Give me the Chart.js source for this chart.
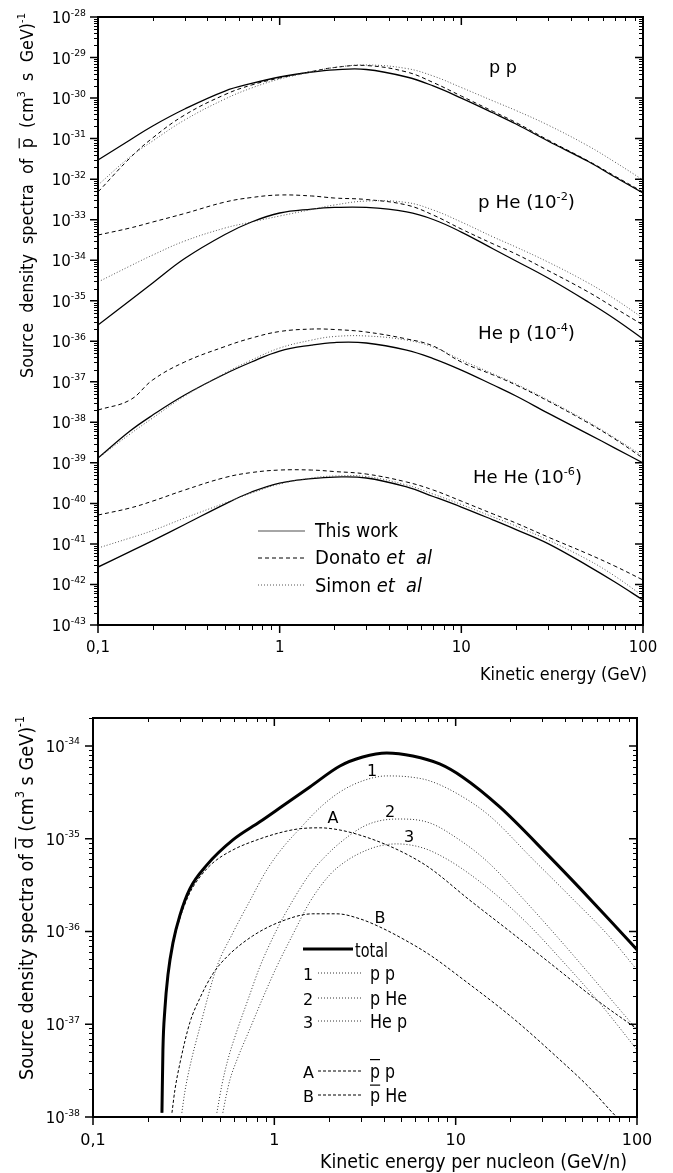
<!DOCTYPE html>
<html>
<head>
<meta charset="utf-8">
<script src="https://cdn.jsdelivr.net/npm/chart.js@4.4.1/dist/chart.umd.min.js"></script>
<style>
  html, body { margin: 0; padding: 0; background: #fff; }
  #wrap { position: relative; width: 673px; height: 1173px; }
  canvas { position: absolute; left: 0; }
</style>
</head>
<body>
<div id="wrap">
  <canvas id="pbarChart" width="673" height="695" style="top:0"></canvas>
  <canvas id="dbarChart" width="673" height="478" style="top:695px"></canvas>
</div>
<script>
// --- 1. DATA: antiproton source spectra (top panel) ---
const E_GRID = [0.1, 0.15, 0.2, 0.3, 0.5, 0.7, 1, 1.5, 2, 3, 5, 7, 10, 15, 20, 30, 50, 70, 100];

const ppThis   = [2.96e-32, 9.23e-32, 2.05e-31, 5.37e-31, 1.49e-30, 2.29e-30, 3.31e-30, 4.40e-30, 4.98e-30, 5.07e-30, 3.31e-30, 1.99e-30, 1.00e-30, 4.28e-31, 2.29e-31, 8.73e-32, 2.72e-32, 1.13e-32, 4.55e-33];
const ppDonato = [4.81e-33, 3.32e-32, 1.04e-31, 3.82e-31, 1.22e-30, 2.10e-30, 3.13e-30, 4.52e-30, 5.68e-30, 6.35e-30, 4.40e-30, 2.42e-30, 1.12e-30, 4.66e-31, 2.49e-31, 9.23e-32, 2.80e-32, 1.19e-32, 4.81e-33];
const ppSimon  = [7.16e-33, 3.52e-32, 8.73e-32, 2.88e-31, 9.48e-31, 1.77e-30, 2.95e-30, 4.40e-30, 5.68e-30, 6.55e-30, 5.36e-30, 3.50e-30, 1.82e-30, 8.45e-31, 4.93e-31, 2.16e-31, 6.56e-32, 2.64e-32, 9.51e-33];

const pHeThis   = [2.52e-36, 1.01e-35, 2.74e-35, 1.10e-34, 4.31e-34, 8.75e-34, 1.46e-33, 1.83e-33, 2.00e-33, 2.00e-33, 1.55e-33, 1.01e-33, 4.95e-34, 1.89e-34, 9.55e-35, 3.63e-35, 9.29e-36, 3.54e-36, 1.14e-36];
const pHeDonato = [4.18e-34, 6.22e-34, 8.75e-34, 1.42e-33, 2.72e-33, 3.52e-33, 4.06e-33, 3.84e-33, 3.42e-33, 3.14e-33, 2.30e-33, 1.30e-33, 5.87e-34, 2.51e-34, 1.42e-34, 5.56e-35, 1.64e-35, 6.61e-36, 2.52e-36];
const pHeSimon  = [2.90e-35, 7.18e-35, 1.34e-34, 2.97e-34, 6.22e-34, 8.75e-34, 1.23e-33, 1.78e-33, 2.30e-33, 2.88e-33, 2.65e-33, 1.73e-33, 8.75e-34, 3.73e-34, 2.11e-34, 9.02e-35, 2.74e-35, 1.10e-35, 3.74e-36];

const hepThis   = [1.31e-39, 6.10e-39, 1.51e-38, 4.72e-38, 1.56e-37, 3.08e-37, 5.74e-37, 8.07e-37, 9.31e-37, 9.06e-37, 6.08e-37, 3.75e-37, 1.95e-37, 8.32e-38, 4.46e-38, 1.69e-38, 5.14e-39, 2.32e-39, 9.91e-40];
const hepDonato = [2.01e-38, 3.55e-38, 1.11e-37, 3.08e-37, 7.41e-37, 1.20e-36, 1.74e-36, 2.00e-36, 1.95e-36, 1.69e-36, 1.14e-36, 7.64e-37, 3.08e-37, 1.47e-37, 8.32e-38, 3.36e-38, 9.62e-39, 3.87e-39, 1.31e-39];
const hepSimon  = [1.31e-39, 5.14e-39, 1.28e-38, 4.46e-38, 1.64e-37, 3.44e-37, 6.81e-37, 1.07e-36, 1.31e-36, 1.35e-36, 1.07e-36, 7.21e-37, 3.44e-37, 1.56e-37, 8.81e-38, 3.55e-38, 1.02e-38, 4.10e-39, 1.47e-39];

const heheThis   = [2.69e-42, 6.49e-42, 1.21e-41, 3.01e-41, 9.64e-41, 1.91e-40, 3.18e-40, 4.10e-40, 4.47e-40, 4.23e-40, 2.54e-40, 1.48e-40, 8.13e-41, 3.88e-41, 2.26e-41, 1.02e-41, 2.84e-42, 1.15e-42, 4.13e-43];
const heheDonato = [5.16e-41, 7.69e-41, 1.14e-40, 2.14e-40, 4.35e-40, 5.77e-40, 6.65e-40, 6.65e-40, 6.11e-40, 5.30e-40, 3.37e-40, 2.14e-40, 1.14e-40, 5.46e-41, 3.27e-41, 1.48e-41, 5.62e-42, 2.84e-42, 1.29e-42];
const heheSimon  = [7.92e-42, 1.40e-41, 2.14e-41, 4.36e-41, 1.02e-40, 1.80e-40, 3.01e-40, 4.23e-40, 4.73e-40, 4.60e-40, 2.84e-40, 1.70e-40, 9.38e-41, 4.60e-41, 2.76e-41, 1.25e-41, 4.01e-42, 1.61e-42, 5.18e-43];

// --- 2. DATA: antideuteron source spectra (bottom panel) ---
const totalE = [0.240, 0.243, 0.249, 0.259, 0.276, 0.302, 0.342, 0.425, 0.591, 0.832, 1.11, 1.57, 2.30, 3.07, 4.17, 5.80, 8.16, 10.9, 17.5, 33.0, 48.2, 70.6, 100];
const totalV = [1.11e-38, 5.30e-38, 1.43e-37, 3.40e-37, 7.53e-37, 1.51e-36, 2.88e-36, 5.22e-36, 9.70e-36, 1.52e-35, 2.25e-35, 3.61e-35, 6.08e-35, 7.60e-35, 8.41e-35, 7.80e-35, 6.40e-35, 4.63e-35, 2.20e-35, 6.37e-36, 2.95e-36, 1.33e-36, 6.34e-37];

const ppE = [0.309, 0.321, 0.342, 0.389, 0.482, 0.591, 0.733, 0.909, 1.11, 1.38, 1.78, 2.30, 3.07, 4.17, 5.58, 7.19, 10.5, 15.4, 26.2, 42.5, 70.6, 100];
const ppV = [1.11e-38, 1.87e-38, 3.48e-38, 9.38e-38, 4.16e-37, 9.66e-37, 2.14e-36, 4.61e-36, 7.96e-36, 1.28e-35, 2.15e-35, 3.19e-35, 4.20e-35, 4.75e-35, 4.63e-35, 4.20e-35, 2.96e-35, 1.76e-35, 6.21e-36, 2.42e-36, 8.75e-37, 3.85e-37];

const pHeE = [0.482, 0.514, 0.554, 0.622, 0.715, 0.832, 1.03, 1.27, 1.57, 1.90, 2.30, 3.07, 3.81, 4.92, 7.19, 10.5, 14.8, 22.5, 38.4, 62.1, 100];
const pHeV = [1.11e-38, 2.22e-38, 4.13e-38, 8.49e-38, 1.83e-37, 4.16e-37, 1.04e-36, 2.19e-36, 4.18e-36, 6.37e-36, 9.02e-36, 1.34e-35, 1.56e-35, 1.63e-35, 1.48e-35, 9.70e-36, 5.77e-36, 2.48e-36, 7.73e-37, 2.59e-37, 8.71e-38];

const hepE = [0.520, 0.541, 0.569, 0.622, 0.733, 0.864, 1.03, 1.27, 1.57, 2.02, 2.45, 3.07, 3.81, 4.73, 6.58, 8.70, 11.9, 17.5, 25.6, 37.4, 62.1, 100];
const hepV = [1.11e-38, 1.65e-38, 2.52e-38, 4.13e-38, 8.91e-38, 1.92e-37, 4.16e-37, 9.42e-37, 2.08e-36, 4.07e-36, 5.62e-36, 7.21e-36, 8.36e-36, 8.79e-36, 7.96e-36, 6.21e-36, 4.18e-36, 2.30e-36, 1.15e-36, 5.20e-37, 1.70e-37, 5.30e-38];

const pbarpE = [0.240, 0.243, 0.249, 0.259, 0.276, 0.302, 0.342, 0.389, 0.458, 0.591, 0.832, 1.11, 1.38, 1.78, 2.30, 3.07, 4.17, 5.58, 7.19, 11.9, 19.8, 33.0, 59.8, 100];
const pbarpV = [1.11e-38, 5.30e-38, 1.39e-37, 3.24e-37, 7.18e-37, 1.40e-36, 2.61e-36, 3.87e-36, 5.48e-36, 7.57e-36, 9.95e-36, 1.18e-35, 1.28e-35, 1.31e-35, 1.24e-35, 1.07e-35, 8.57e-36, 6.53e-36, 4.84e-36, 2.19e-36, 1.01e-36, 4.59e-37, 1.83e-37, 8.91e-38];

const pbarHeE = [0.2725, 0.283, 0.302, 0.342, 0.389, 0.458, 0.547, 0.761, 1.11, 1.63, 2.21, 2.96, 3.81, 5.24, 7.19, 10.9, 20.6, 36.0, 54.7, 73.3, 85.3];
const pbarHeV = [1.11e-38, 1.96e-38, 3.84e-38, 1.04e-37, 1.92e-37, 3.49e-37, 5.32e-37, 8.97e-37, 1.30e-36, 1.55e-36, 1.55e-36, 1.37e-36, 1.12e-36, 8.11e-37, 5.60e-37, 3.08e-37, 1.17e-37, 4.46e-38, 2.07e-38, 1.11e-38, 8.24e-39];

// --- 3. AXES ---
const X_TICKS = [0.1, 1, 10, 100];
const X_LABELS = ['0,1', '1', '10', '100'];
const TOP_Y_TICKS = [1e-28, 1e-29, 1e-30, 1e-31, 1e-32, 1e-33, 1e-34, 1e-35, 1e-36, 1e-37, 1e-38, 1e-39, 1e-40, 1e-41, 1e-42, 1e-43];
const TOP_Y_EXP = ['-28', '-29', '-30', '-31', '-32', '-33', '-34', '-35', '-36', '-37', '-38', '-39', '-40', '-41', '-42', '-43'];
const BOT_Y_TICKS = [1e-34, 1e-35, 1e-36, 1e-37, 1e-38];
const BOT_Y_EXP = ['-34', '-35', '-36', '-37', '-38'];

// minor ticks 2..9 in every decade
function minorTicks(decades) {
  const out = [];
  decades.forEach(d => { for (let m = 2; m <= 9; m++) out.push(m * d); });
  return out;
}
const X_MINOR = minorTicks([0.1, 1, 10]);
const TOP_Y_MINOR = minorTicks(TOP_Y_TICKS.slice(1));
const BOT_Y_MINOR = minorTicks([1e-38, 1e-37, 1e-36, 1e-35, 1e-34]).filter(v => v <= 2e-34);

// --- 4. TEXT HELPERS ---
const FONT = '"DejaVu Sans", Verdana, sans-serif';

function fontOf(p, size) {
  const s = p.sup ? size * 0.62 : size;
  return (p.it ? 'italic ' : '') + s.toFixed(1) + 'px ' + FONT;
}

function drawRich(ctx, parts, x, y, o) {
  const size = o.size;
  ctx.save();
  ctx.translate(x, y);
  if (o.rot) ctx.rotate(o.rot);
  let w = 0;
  parts.forEach(p => { ctx.font = fontOf(p, size); w += ctx.measureText(p.t).width; });
  if (o.width) ctx.scale(o.width / w, 1);
  let cx = o.align === 'right' ? -w : o.align === 'center' ? -w / 2 : 0;
  ctx.fillStyle = '#000';
  ctx.textAlign = 'left';
  ctx.textBaseline = 'alphabetic';
  parts.forEach(p => {
    ctx.font = fontOf(p, size);
    const pw = ctx.measureText(p.t).width;
    ctx.fillText(p.t, cx, p.sup ? -size * (o.raise || 0.45) : 0);
    if (p.over) ctx.fillRect(cx, -size * p.over, pw, 1.2);
    cx += pw;
  });
  ctx.restore();
}

function legendLine(ctx, x1, x2, y, color, width, dash) {
  ctx.save();
  ctx.strokeStyle = color;
  ctx.lineWidth = width;
  ctx.setLineDash(dash);
  ctx.beginPath();
  ctx.moveTo(x1, y);
  ctx.lineTo(x2, y);
  ctx.stroke();
  ctx.restore();
}

// box + ticks: left/bottom ticks point out, top/right ticks point in
function drawFrame(chart, yMajor, yMinor) {
  const { ctx, chartArea: a, scales: { x, y } } = chart;
  ctx.save();
  ctx.strokeStyle = '#000';
  const seg = (x1, y1, x2, y2) => { ctx.moveTo(x1, y1); ctx.lineTo(x2, y2); };

  ctx.lineWidth = 1;
  ctx.beginPath();
  X_MINOR.forEach(v => {
    const p = Math.round(x.getPixelForValue(v)) + 0.5;
    seg(p, a.bottom, p, a.bottom + 5);
    seg(p, a.top, p, a.top + 4);
  });
  yMinor.forEach(v => {
    const p = Math.round(y.getPixelForValue(v)) + 0.5;
    seg(a.left - 4, p, a.left, p);
    seg(a.right - 4, p, a.right, p);
  });
  ctx.stroke();

  ctx.lineWidth = 1.5;
  ctx.beginPath();
  X_TICKS.forEach(v => {
    const p = x.getPixelForValue(v);
    seg(p, a.bottom, p, a.bottom + 8);
    seg(p, a.top, p, a.top + 8);
  });
  yMajor.forEach(v => {
    const p = y.getPixelForValue(v);
    seg(a.left - 8, p, a.left, p);
    seg(a.right - 8, p, a.right, p);
  });
  ctx.stroke();

  ctx.lineWidth = 2;
  ctx.strokeRect(a.left, a.top, a.right - a.left, a.bottom - a.top);
  ctx.restore();
}

function pts(xs, ys) {
  return xs.map((v, i) => ({ x: v, y: ys[i] }));
}

// --- 5. TOP CHART ---
const STYLE_THIS   = { borderColor: '#000', borderWidth: 1.3, borderDash: [] };
const STYLE_DONATO = { borderColor: '#000', borderWidth: 1, borderDash: [4, 3] };
const STYLE_SIMON  = { borderColor: '#555', borderWidth: 1, borderDash: [1, 2] };

function topSet(label, values, style) {
  return Object.assign({ label, data: pts(E_GRID, values), clip: 0 }, style);
}

const topDecor = {
  id: 'topDecor',
  afterDraw(chart) {
    const { ctx, chartArea: a, scales: { x, y } } = chart;
    drawFrame(chart, TOP_Y_TICKS, TOP_Y_MINOR);

    TOP_Y_TICKS.forEach((v, i) => {
      drawRich(ctx, [{ t: '10' }, { t: TOP_Y_EXP[i], sup: true }], a.left - 12, y.getPixelForValue(v) + 6,
        { size: 15, align: 'right', raise: 0.5 });
    });
    X_TICKS.forEach((v, i) => {
      drawRich(ctx, [{ t: X_LABELS[i] }], x.getPixelForValue(v), 652, { size: 15, align: 'center' });
    });

    drawRich(ctx, [{ t: 'Kinetic energy (GeV)' }], 480, 680, { size: 18, width: 167 });
    drawRich(ctx, [
      { t: 'Source  density  spectra  of  ' }, { t: 'p', over: 0.8 }, { t: '  (cm' }, { t: '3', sup: true },
      { t: '  s  GeV)' }, { t: '-1', sup: true }
    ], 33, 378, { size: 18, rot: -Math.PI / 2, width: 365 });

    // reaction labels
    drawRich(ctx, [{ t: 'p p' }], 489, 73, { size: 18, width: 28 });
    drawRich(ctx, [{ t: 'p He (10' }, { t: '-2', sup: true }, { t: ')' }], 478, 208, { size: 18, width: 97 });
    drawRich(ctx, [{ t: 'He p (10' }, { t: '-4', sup: true }, { t: ')' }], 478, 339, { size: 18, width: 97 });
    drawRich(ctx, [{ t: 'He He (10' }, { t: '-6', sup: true }, { t: ')' }], 473, 483, { size: 18, width: 109 });

    // legend
    legendLine(ctx, 258, 305, 531, '#888', 1.5, []);
    legendLine(ctx, 258, 305, 558, '#000', 1, [4, 3]);
    legendLine(ctx, 258, 305, 585, '#555', 1, [1, 2]);
    drawRich(ctx, [{ t: 'This work' }], 315, 537, { size: 19, width: 83 });
    drawRich(ctx, [{ t: 'Donato ' }, { t: 'et  al', it: true }], 315, 564, { size: 19, width: 117 });
    drawRich(ctx, [{ t: 'Simon ' }, { t: 'et  al', it: true }], 315, 592, { size: 19, width: 107 });
  }
};

new Chart(document.getElementById('pbarChart'), {
  type: 'line',
  data: {
    datasets: [
      topSet('pp Simon', ppSimon, STYLE_SIMON),
      topSet('pHe Simon', pHeSimon, STYLE_SIMON),
      topSet('Hep Simon', hepSimon, STYLE_SIMON),
      topSet('HeHe Simon', heheSimon, STYLE_SIMON),
      topSet('pp Donato', ppDonato, STYLE_DONATO),
      topSet('pHe Donato', pHeDonato, STYLE_DONATO),
      topSet('Hep Donato', hepDonato, STYLE_DONATO),
      topSet('HeHe Donato', heheDonato, STYLE_DONATO),
      topSet('pp This work', ppThis, STYLE_THIS),
      topSet('pHe This work', pHeThis, STYLE_THIS),
      topSet('Hep This work', hepThis, STYLE_THIS),
      topSet('HeHe This work', heheThis, STYLE_THIS)
    ]
  },
  options: {
    responsive: false,
    animation: false,
    events: [],
    layout: { padding: { left: 98, top: 17, right: 30, bottom: 70 } },
    elements: { point: { radius: 0 }, line: { tension: 0.4 } },
    plugins: { legend: { display: false }, tooltip: { enabled: false } },
    scales: {
      x: { type: 'logarithmic', min: 0.1, max: 100, display: false },
      y: { type: 'logarithmic', min: 1e-43, max: 1e-28, display: false }
    }
  },
  plugins: [topDecor]
});

// --- 6. BOTTOM CHART ---
const DOT = { borderColor: '#333', borderWidth: 1, borderDash: [1, 2] };
const DASH = { borderColor: '#000', borderWidth: 1, borderDash: [3, 2] };

const botDecor = {
  id: 'botDecor',
  afterDraw(chart) {
    const { ctx, chartArea: a, scales: { x, y } } = chart;
    drawFrame(chart, BOT_Y_TICKS, BOT_Y_MINOR);

    BOT_Y_TICKS.forEach((v, i) => {
      drawRich(ctx, [{ t: '10' }, { t: BOT_Y_EXP[i], sup: true }], a.left - 13, y.getPixelForValue(v) + 6,
        { size: 15, align: 'right', raise: 0.5 });
    });
    X_TICKS.forEach((v, i) => {
      drawRich(ctx, [{ t: X_LABELS[i] }], x.getPixelForValue(v), 450, { size: 16, align: 'center' });
    });

    drawRich(ctx, [{ t: 'Kinetic energy per nucleon (GeV/n)' }], 320, 473, { size: 19, width: 307 });
    drawRich(ctx, [
      { t: 'Source density spectra of ' }, { t: 'd', over: 0.95 }, { t: ' (cm' }, { t: '3', sup: true },
      { t: ' s GeV)' }, { t: '-1', sup: true }
    ], 33, 385, { size: 19, rot: -Math.PI / 2, width: 364 });

    // curve labels
    drawRich(ctx, [{ t: '1' }], 372, 81, { size: 16, align: 'center' });
    drawRich(ctx, [{ t: '2' }], 390, 122, { size: 16, align: 'center' });
    drawRich(ctx, [{ t: '3' }], 409, 147, { size: 16, align: 'center' });
    drawRich(ctx, [{ t: 'A' }], 333, 128, { size: 16, align: 'center' });
    drawRich(ctx, [{ t: 'B' }], 380, 228, { size: 16, align: 'center' });

    // legend
    legendLine(ctx, 303, 353, 254, '#000', 3, []);
    drawRich(ctx, [{ t: 'total' }], 355, 262, { size: 19, width: 33 });
    const rows = [
      { key: '1', y: 285, dash: DOT, text: [{ t: 'p p' }], w: 25 },
      { key: '2', y: 310, dash: DOT, text: [{ t: 'p He' }], w: 37 },
      { key: '3', y: 333, dash: DOT, text: [{ t: 'He p' }], w: 37 },
      { key: 'A', y: 383, dash: DASH, text: [{ t: 'p', over: 1.0 }, { t: ' p' }], w: 25 },
      { key: 'B', y: 407, dash: DASH, text: [{ t: 'p', over: 0.92 }, { t: ' He' }], w: 37 }
    ];
    rows.forEach(r => {
      drawRich(ctx, [{ t: r.key }], 303, r.y, { size: 16 });
      legendLine(ctx, 318, 362, r.y - 7, r.dash.borderColor, 1, r.dash.borderDash);
      drawRich(ctx, r.text, 370, r.y, { size: 19, width: r.w });
    });
  }
};

new Chart(document.getElementById('dbarChart'), {
  type: 'line',
  data: {
    datasets: [
      Object.assign({ label: 'p p', data: pts(ppE, ppV), clip: 0 }, DOT),
      Object.assign({ label: 'p He', data: pts(pHeE, pHeV), clip: 0 }, DOT),
      Object.assign({ label: 'He p', data: pts(hepE, hepV), clip: 0 }, DOT),
      Object.assign({ label: 'pbar p', data: pts(pbarpE, pbarpV), clip: 0 }, DASH),
      Object.assign({ label: 'pbar He', data: pts(pbarHeE, pbarHeV), clip: 0 }, DASH),
      { label: 'total', data: pts(totalE, totalV), clip: 0, borderColor: '#000', borderWidth: 3 }
    ]
  },
  options: {
    responsive: false,
    animation: false,
    events: [],
    layout: { padding: { left: 93, top: 23, right: 36, bottom: 56 } },
    elements: { point: { radius: 0 }, line: { cubicInterpolationMode: 'monotone' } },
    plugins: { legend: { display: false }, tooltip: { enabled: false } },
    scales: {
      x: { type: 'logarithmic', min: 0.1, max: 100, display: false },
      y: { type: 'logarithmic', min: 1e-38, max: 2e-34, display: false }
    }
  },
  plugins: [botDecor]
});
</script>
</body>
</html>
